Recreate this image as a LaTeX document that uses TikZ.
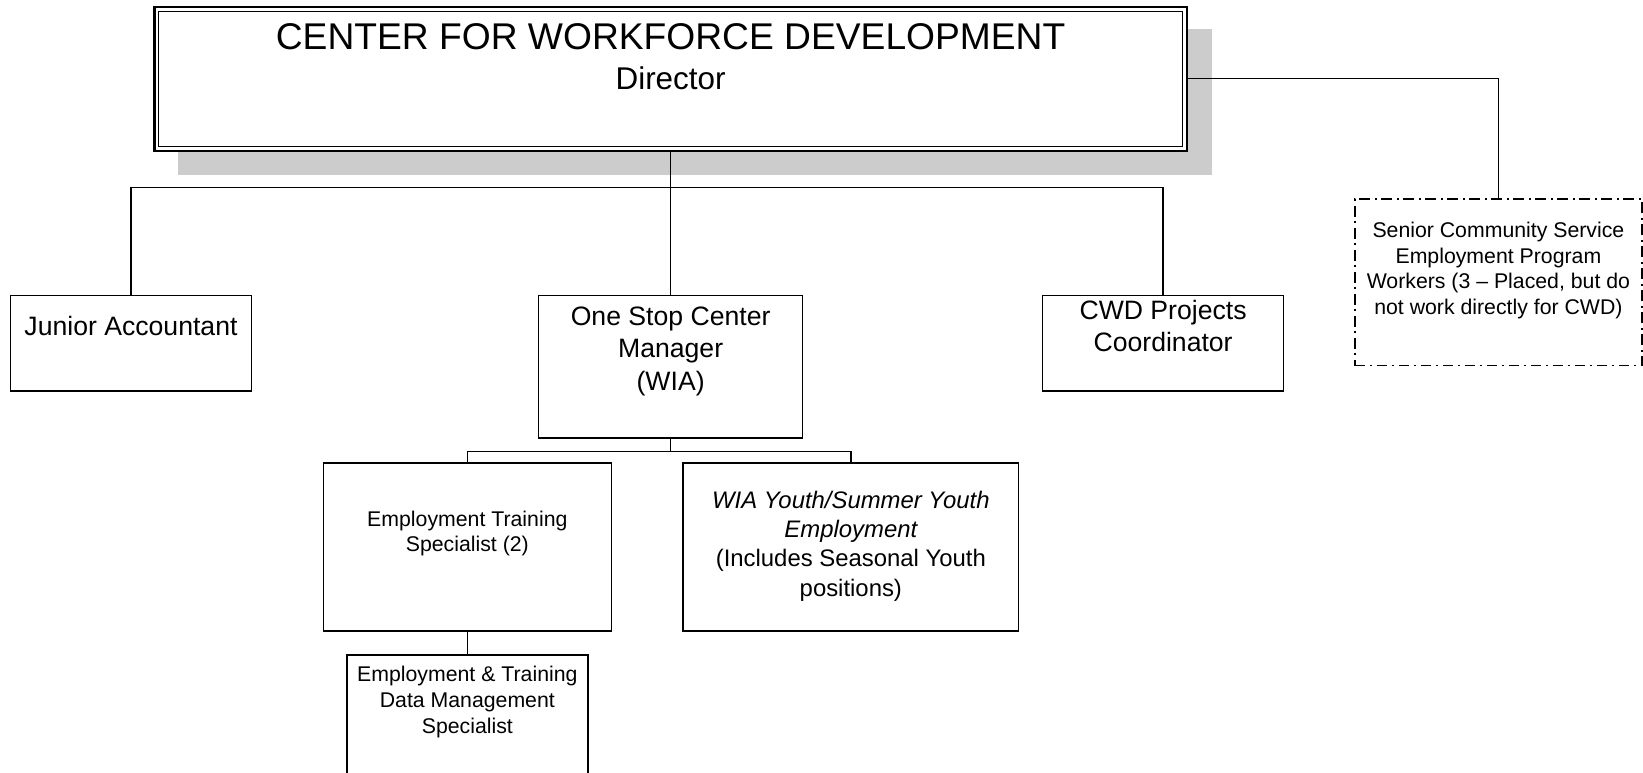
\documentclass[tikz,border=0pt]{standalone}
\usepackage{fontspec}
\setmainfont{Liberation Sans}
\begin{document}
\begin{tikzpicture}[x=1pt,y=-1pt,
  box/.style={draw=black, line width=1.4pt, fill=white, inner sep=0pt, outer sep=0pt},
  dashbox/.style={draw=black, line width=1.4pt, fill=white, inner sep=0pt, outer sep=0pt,
    dash pattern=on 10pt off 4pt on 2pt off 5pt},
  txt/.style={inner sep=0pt, align=center},
  conn/.style={draw=black, line width=1.4pt},
  fA/.style={font=\fontsize{25.4}{31}\selectfont},
  fB/.style={font=\fontsize{20.3}{24.5}\selectfont},
  fC/.style={font=\fontsize{22.8}{28}\selectfont}
]
\useasboundingbox (0,0) rectangle (1568,737);
\clip (0,0) rectangle (1568,737);
\definecolor{shadowgray}{HTML}{CCCCCC}

% top box with shadow
\node[fill=shadowgray, inner sep=0pt, minimum width=987pt, minimum height=139pt] (shadow) at (663.5,97.5) {};
\node[box, line width=2.2pt, minimum width=985pt, minimum height=137pt] (top) at (640,75.5) {};
\node[draw=black, line width=1pt, inner sep=0pt, minimum width=977pt, minimum height=129pt] (topin) at (640,75.5) {};
\node[txt, font=\fontsize{35.5}{40}\selectfont] (topt1) at (640,35) {CENTER FOR WORKFORCE DEVELOPMENT};
\node[txt, font=\fontsize{30}{34}\selectfont] (topt2) at (640,75) {Director};

% second level boxes
\node[box, minimum width=230pt, minimum height=91pt] (ja) at (125,327.5) {};
\node[txt, fA] (jat) at (125,311) {Junior Accountant};

\node[box, minimum width=252pt, minimum height=136pt] (osc) at (640,350) {};
\node[txt, fA] (osct) at (640,335) {One Stop Center\\Manager\\(WIA)};

\node[box, minimum width=230pt, minimum height=91pt] (cwd) at (1110,327.5) {};
\node[txt, fA] (cwdt) at (1110,311) {CWD Projects\\Coordinator};

\node[dashbox, minimum width=274pt, minimum height=159pt] (sc) at (1430,269.5) {};
\node[txt, fB] (sct) at (1430,258) {Senior Community Service\\Employment Program\\Workers (3 -- Placed, but do\\not work directly for CWD)};

% third level
\node[box, minimum width=275pt, minimum height=160pt] (ets) at (446,522) {};
\node[txt, fB] (etst) at (446,509) {Employment Training\\Specialist (2)};

\node[box, minimum width=320pt, minimum height=160pt] (wia) at (812,522) {};
\node[txt, fC] (wiat) at (812,521) {\itshape WIA Youth/Summer Youth\\\itshape Employment\\(Includes Seasonal Youth\\positions)};

\node[box, minimum width=230pt, minimum height=140pt] (dm) at (446,695) {};
\node[txt, fB] (dmt) at (446,670) {Employment \& Training\\Data Management\\Specialist};

% connectors
\coordinate (j1) at (640,179);
\draw[conn] (top.south) -- (osc.north);
\draw[conn] (ja.north) |- (j1) -| (cwd.north);
\draw[conn] (top.east |- 0,75) -| (sc.north);

\coordinate (j2) at (640,431);
\draw[conn] (osc.south) -- (j2);
\draw[conn] (ets.north) |- (j2) -| (wia.north);
\draw[conn] (ets.south) -- (dm.north);
\end{tikzpicture}
\end{document}
